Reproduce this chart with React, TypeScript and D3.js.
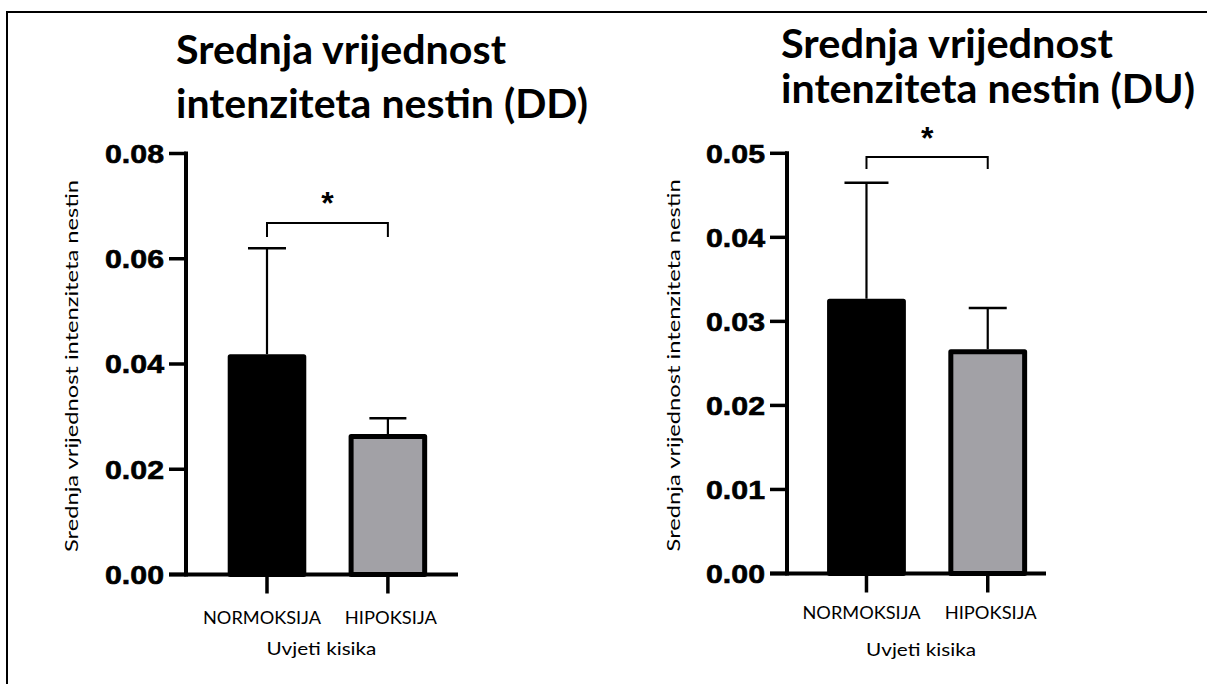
import React from "react";
import * as d3 from "d3";

const categories = ["NORMOKSIJA", "HIPOKSIJA"];
const meanDD = [0.0414, 0.0262];
const upperDD = [0.0620, 0.0297];
const meanDU = [0.0324, 0.0264];
const upperDU = [0.0465, 0.0316];
const ticksDD = [0, 0.02, 0.04, 0.06, 0.08];
const ticksDU = [0, 0.01, 0.02, 0.03, 0.04, 0.05];
const barColors = ["#000000", "#a2a1a6"];
const titleDD = ["Srednja vrijednost", "intenziteta nestin (DD)"];
const titleDU = ["Srednja vrijednost", "intenziteta nestin (DU)"];
const yTitle = "Srednja vrijednost intenziteta nestin";
const xTitle = "Uvjeti kisika";

type PanelProps = {
  means: number[];
  uppers: number[];
  ticks: number[];
  title: string[];
  axisX: number;
  xEnd: number;
  y0: number;
  yTop: number;
  align: number;
  paddingOuter: number;
  titleX: number;
  titleY: number[];
  titleW: number[];
  yTitleX: number;
  bracketY: number;
  bracketDrop: number;
  starY: number;
  capW: number[];
  xLabelY: number;
  xTitleY: number;
};

const xLabelW = [118, 92];

function Panel(p: PanelProps) {
  const y = d3.scaleLinear().domain([0, p.ticks[p.ticks.length - 1]]).range([p.y0, p.yTop]);
  const x = d3
    .scaleBand<string>()
    .domain(categories)
    .range([p.axisX, p.xEnd])
    .paddingInner(0.35)
    .paddingOuter(p.paddingOuter)
    .align(p.align);
  const bw = x.bandwidth();
  const sw = 5;
  const fmt = d3.format(".2f");
  const c0 = (x(categories[0]) as number) + bw / 2;
  const c1 = (x(categories[1]) as number) + bw / 2;
  const sans = "'Liberation Sans', Arial, sans-serif";
  const cal = "Lato, 'Open Sans', sans-serif";
  return (
    <g>
      {p.title.map((t, i) => (
        <text
          key={t}
          x={p.titleX}
          y={p.titleY[i]}
          fontFamily={cal}
          fontWeight={700}
          fontSize={40}
          textLength={p.titleW[i]}
          lengthAdjust="spacingAndGlyphs"
          fill="#000"
        >
          {t}
        </text>
      ))}
      {categories.map((c, i) => {
        const bx = x(c) as number;
        return (
          <rect
            key={c}
            x={bx + sw / 2}
            y={y(p.means[i])}
            width={bw - sw}
            height={y(0) - y(p.means[i])}
            fill={barColors[i]}
            stroke="#000"
            strokeWidth={sw}
            strokeLinejoin="round"
          />
        );
      })}
      {categories.map((c, i) => {
        const cx = (x(c) as number) + bw / 2;
        return (
          <g key={c + "e"} stroke="#000">
            <line x1={cx} x2={cx} y1={y(p.means[i]) - sw / 2} y2={y(p.uppers[i])} strokeWidth={2.2} />
            <line x1={cx - p.capW[i] / 2} x2={cx + p.capW[i] / 2} y1={y(p.uppers[i])} y2={y(p.uppers[i])} strokeWidth={2.6} />
          </g>
        );
      })}
      <line x1={p.axisX} x2={p.axisX} y1={p.yTop - 2} y2={p.y0 + 2} stroke="#000" strokeWidth={4} />
      {p.ticks.map((t) => (
        <g key={t}>
          <line x1={p.axisX - 17} x2={p.axisX} y1={y(t)} y2={y(t)} stroke="#000" strokeWidth={3.5} />
          <text
            x={p.axisX - 22}
            y={y(t)}
            dy="0.36em"
            textAnchor="end"
            fontFamily={sans}
            fontWeight={700}
            fontSize={26}
            textLength={59}
            lengthAdjust="spacingAndGlyphs"
            fill="#000"
            stroke="#000"
            strokeWidth={0.6}
          >
            {fmt(t)}
          </text>
        </g>
      ))}
      <line x1={p.axisX - 17} x2={p.xEnd} y1={p.y0} y2={p.y0} stroke="#000" strokeWidth={4} />
      {categories.map((c, i) => {
        const cx = (x(c) as number) + bw / 2;
        return (
          <g key={c + "t"}>
            <line x1={cx} x2={cx} y1={p.y0} y2={p.y0 + 19} stroke="#000" strokeWidth={3.5} />
            <text
              x={cx - (i === 0 ? 5 : -3)}
              y={p.xLabelY}
              dy="0.35em"
              textAnchor="middle"
              fontFamily={cal}
              fontSize={17}
              textLength={xLabelW[i]}
              lengthAdjust="spacingAndGlyphs"
              fill="#000"
            >
              {c}
            </text>
          </g>
        );
      })}
      <text
        x={(c0 + c1) / 2 - 6}
        y={p.xTitleY}
        dy="0.35em"
        textAnchor="middle"
        fontFamily={cal}
        fontSize={17}
        textLength={110}
        lengthAdjust="spacingAndGlyphs"
        fill="#000"
      >
        {xTitle}
      </text>
      <text
        transform={`translate(${p.yTitleX},${(p.yTop + p.y0) / 2 + 2}) rotate(-90)`}
        textAnchor="middle"
        dy="0.35em"
        fontFamily={cal}
        fontSize={17}
        textLength={372}
        lengthAdjust="spacingAndGlyphs"
        fill="#000"
      >
        {yTitle}
      </text>
      <path
        d={`M${c0},${p.bracketY + p.bracketDrop}V${p.bracketY}H${c1}V${p.bracketY + p.bracketDrop}`}
        fill="none"
        stroke="#000"
        strokeWidth={2}
      />
      <text x={(c0 + c1) / 2} y={p.starY + 16} textAnchor="middle" fontFamily={sans} fontWeight={700} fontSize={32} fill="#000">
        *
      </text>
    </g>
  );
}

export default function App() {
  return (
    <svg
      width={1207}
      height={684}
      style={{ position: "absolute", left: 0, top: 0, display: "block", background: "#fff" }}
    >
      <rect x={0} y={0} width={1207} height={684} fill="#fff" />
      <rect x={7} y={12} width={1230} height={700} fill="none" stroke="#000" strokeWidth={2} />
      <Panel
        means={meanDD}
        uppers={upperDD}
        ticks={ticksDD}
        title={titleDD}
        axisX={186}
        xEnd={458}
        y0={574.5}
        yTop={153.5}
        align={0.575}
        paddingOuter={0.3}
        titleX={176}
        titleY={[64, 118]}
        titleW={[330, 412]}
        yTitleX={72}
        bracketY={223}
        bracketDrop={14}
        starY={198}
        capW={[38, 37]}
        xLabelY={618}
        xTitleY={649}
      />
      <Panel
        means={meanDU}
        uppers={upperDU}
        ticks={ticksDU}
        title={titleDU}
        axisX={787}
        xEnd={1046}
        y0={573.5}
        yTop={153.3}
        align={0.68}
        paddingOuter={0.243}
        titleX={781}
        titleY={[58, 103]}
        titleW={[332, 414]}
        yTitleX={674}
        bracketY={157}
        bracketDrop={12}
        starY={133}
        capW={[44, 38]}
        xLabelY={613}
        xTitleY={650}
      />
    </svg>
  );
}
